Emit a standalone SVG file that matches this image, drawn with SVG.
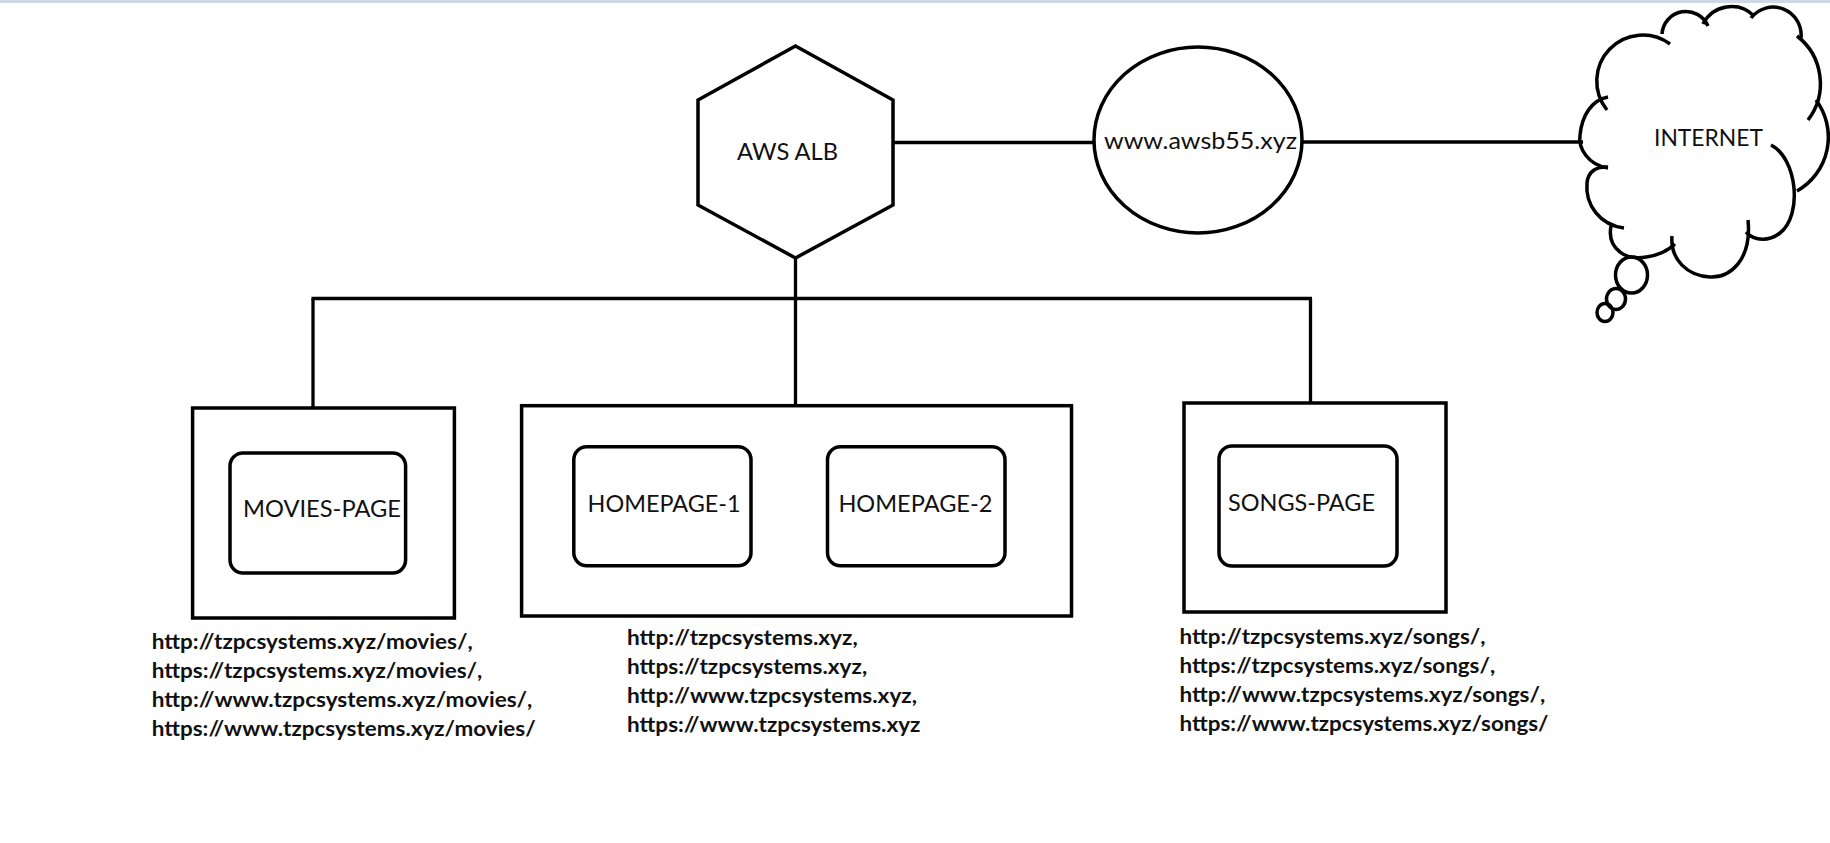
<svg xmlns="http://www.w3.org/2000/svg" width="1830" height="843" viewBox="0 0 1830 843">
<style>
.s{fill:none;stroke:#000;stroke-width:3.5;stroke-linejoin:miter}
.n{fill:#fff;stroke:#000;stroke-width:3.5}
.c{fill:none;stroke:#000;stroke-width:3.3;stroke-linecap:butt}
.lbl{font-family:Lato,"Liberation Sans",sans-serif;font-size:23px;fill:#111}
.url{font-family:Lato,"Liberation Sans",sans-serif;font-size:21px;font-weight:bold;fill:#111}
</style>
<rect x="0" y="0" width="1830" height="843" fill="#fff"/>
<rect x="0" y="0" width="1830" height="3" fill="#cfd6e4"/>
<g id="connectors">
<line class="c" x1="893" y1="142.5" x2="1094" y2="142.5"/>
<line class="c" x1="1301" y1="142" x2="1583" y2="142"/>
<line class="c" x1="795.5" y1="258" x2="795.5" y2="406"/>
<line class="c" x1="311.5" y1="298.5" x2="1312" y2="298.5"/>
<line class="c" x1="313" y1="298.5" x2="313" y2="408"/>
<line class="c" x1="1310.5" y1="298.5" x2="1310.5" y2="403"/>
</g>
<g id="alb">
<polygon class="n" points="795.5,46 893,100 893,205 795.5,258 698,205 698,100"/>
<text class="lbl" x="737" y="160" textLength="101" lengthAdjust="spacingAndGlyphs">AWS ALB</text>
</g>
<g id="dns">
<ellipse class="n" cx="1198" cy="140" rx="104" ry="93"/>
<text class="lbl" x="1104" y="149" textLength="193" lengthAdjust="spacingAndGlyphs">www.awsb55.xyz</text>
</g>
<g id="internet">
<path class="s" d="M1607,110 A46 46 0 0 1 1670,44"/>
<path class="s" d="M1662,34 A24 24 0 0 1 1708,26"/>
<path class="s" d="M1703,24 A32 32 0 0 1 1754,16"/>
<path class="s" d="M1751,18 A28 28 0 0 1 1801,38"/>
<path class="s" d="M1797,36 A60 60 0 0 1 1808,120"/>
<path class="s" d="M1816,100 A62 62 0 0 1 1797,191"/>
<path class="s" d="M1771,145 C1797,158 1803,215 1780,233 C1770,241 1755,242 1746,232"/>
<path class="s" d="M1748,220 C1752,260 1730,278 1710,277 C1688,276 1670,260 1672,236"/>
<path class="s" d="M1675,244 C1660,258 1632,262 1620,252 C1611,245 1609,236 1611,226"/>
<path class="s" d="M1624,228 C1600,225 1585,205 1587,183 C1588,172 1596,166 1608,167"/>
<path class="s" d="M1608,168 C1588,165 1578,148 1580,135 C1582,115 1592,100 1608,97"/>
<ellipse class="s" cx="1631.5" cy="275" rx="16" ry="18"/>
<ellipse class="s" cx="1616" cy="299" rx="9.5" ry="10.5"/>
<ellipse class="s" cx="1605" cy="312.5" rx="8" ry="9"/>
<text class="lbl" x="1654" y="146" textLength="109" lengthAdjust="spacingAndGlyphs">INTERNET</text>
</g>
<g id="movies">
<rect class="n" x="192.6" y="408" width="261.8" height="210"/>
<rect class="n" x="230" y="453" width="175.6" height="120" rx="13"/>
<text class="lbl" x="243" y="517" textLength="158" lengthAdjust="spacingAndGlyphs">MOVIES-PAGE</text>
<text class="url" x="151.7" y="649" textLength="321" lengthAdjust="spacingAndGlyphs">http://tzpcsystems.xyz/movies/,</text>
<text class="url" x="151.7" y="678" textLength="330.7" lengthAdjust="spacingAndGlyphs">https://tzpcsystems.xyz/movies/,</text>
<text class="url" x="151.7" y="707" textLength="380.7" lengthAdjust="spacingAndGlyphs">http://www.tzpcsystems.xyz/movies/,</text>
<text class="url" x="151.7" y="736" textLength="384" lengthAdjust="spacingAndGlyphs">https://www.tzpcsystems.xyz/movies/</text>
</g>
<g id="homepage">
<rect class="n" x="521.6" y="405.7" width="549.9" height="210.3"/>
<g id="homepage1">
<rect class="n" x="573.8" y="446.7" width="177.2" height="119" rx="13"/>
<text class="lbl" x="587.6" y="511.7" textLength="153" lengthAdjust="spacingAndGlyphs">HOMEPAGE-1</text>
</g>
<g id="homepage2">
<rect class="n" x="827.5" y="446.7" width="177.5" height="119" rx="13"/>
<text class="lbl" x="838.4" y="512" textLength="154" lengthAdjust="spacingAndGlyphs">HOMEPAGE-2</text>
</g>
<text class="url" x="627" y="645" textLength="230.7" lengthAdjust="spacingAndGlyphs">http://tzpcsystems.xyz,</text>
<text class="url" x="627" y="674" textLength="240.2" lengthAdjust="spacingAndGlyphs">https://tzpcsystems.xyz,</text>
<text class="url" x="627" y="703" textLength="290" lengthAdjust="spacingAndGlyphs">http://www.tzpcsystems.xyz,</text>
<text class="url" x="627" y="732" textLength="293.4" lengthAdjust="spacingAndGlyphs">https://www.tzpcsystems.xyz</text>
</g>
<g id="songs">
<rect class="n" x="1184" y="403" width="262" height="209"/>
<rect class="n" x="1219" y="446" width="178" height="120" rx="13"/>
<text class="lbl" x="1228" y="511" textLength="147" lengthAdjust="spacingAndGlyphs">SONGS-PAGE</text>
<text class="url" x="1179.5" y="644" textLength="306" lengthAdjust="spacingAndGlyphs">http://tzpcsystems.xyz/songs/,</text>
<text class="url" x="1179.5" y="673" textLength="315.7" lengthAdjust="spacingAndGlyphs">https://tzpcsystems.xyz/songs/,</text>
<text class="url" x="1179.5" y="702" textLength="365.7" lengthAdjust="spacingAndGlyphs">http://www.tzpcsystems.xyz/songs/,</text>
<text class="url" x="1179.5" y="731" textLength="369" lengthAdjust="spacingAndGlyphs">https://www.tzpcsystems.xyz/songs/</text>
</g>
</svg>
